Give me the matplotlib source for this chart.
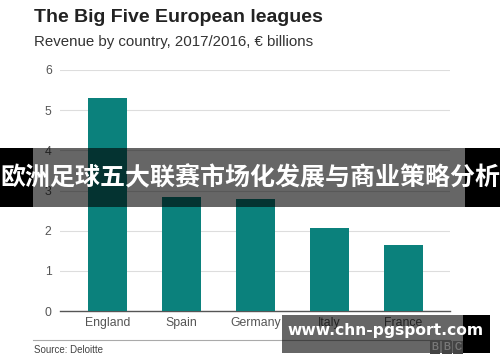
import matplotlib
matplotlib.use("Agg")
import matplotlib.pyplot as plt
from matplotlib.patches import Rectangle

plt.rcParams['font.family'] = ['Liberation Sans', 'DejaVu Sans']

# Data
countries = ["England", "Spain", "Germany", "Italy", "France"]
revenue = [5.3, 2.85, 2.79, 2.07, 1.64]
yticks = [0, 1, 2, 3, 4, 5, 6]

W, H = 500, 362

def fx(x):
    return x / W

def fy(y):
    return 1 - y / H

fig = plt.figure(figsize=(5, 3.62), dpi=100)
fig.patch.set_facecolor("white")

# Main chart
ax = fig.add_axes([fx(60), fy(311), fx(450) - fx(60), fy(70) - fy(311)])
ax.bar(range(len(countries)), revenue, width=0.53, color="#0b817c", zorder=3)
ax.set_ylim(0, 6)
ax.set_xlim(-0.64, 4.63)
ax.set_yticks(yticks)
ax.set_xticks(range(len(countries)))
ax.set_xticklabels(countries)
ax.grid(axis="y", color="#dddddd", linewidth=0.8, zorder=0)
for s in ["top", "right", "left"]:
    ax.spines[s].set_visible(False)
ax.spines["bottom"].set_color("#555555")
ax.spines["bottom"].set_linewidth(1.0)
ax.tick_params(axis="both", length=0, colors="#555555", labelsize=8.8)
ax.tick_params(axis="y", pad=6)
ax.tick_params(axis="x", pad=4)

# Titles
fig.text(fx(34), fy(17), "The Big Five European leagues", fontsize=14,
         fontweight="bold", color="#222222", va="center", ha="left")
fig.text(fx(34), fy(42), "Revenue by country, 2017/2016, € billions", fontsize=10.8,
         color="#333333", va="center", ha="left")

# Footer
fig.lines.append(plt.Line2D([fx(33), fx(450)], [fy(340), fy(340)],
                            transform=fig.transFigure, color="#aaaaaa", linewidth=0.8))
fig.text(fx(34), fy(350), "Source: Deloitte", fontsize=7, color="#444444",
         va="center", ha="left")

# Banner overlay
fig.patches.append(Rectangle((0, fy(207)), 1, fy(148) - fy(207), transform=fig.transFigure,
                             facecolor="black", alpha=0.6, zorder=5))
fig.patches.append(Rectangle((0, fy(207)), fx(33), fy(148) - fy(207), transform=fig.transFigure,
                             facecolor="black", zorder=5))
fig.patches.append(Rectangle((fx(465), fy(207)), 1 - fx(465), fy(148) - fy(207),
                             transform=fig.transFigure, facecolor="black", zorder=5))
fig.text(0.5, fy(178), "欧洲足球五大联赛市场化发展与商业策略分析", fontsize=18,
         fontweight="bold", color="white", va="center", ha="center",
         family=["Noto Sans CJK SC", "DejaVu Sans"], zorder=6)

# Watermark box
fig.patches.append(Rectangle((fx(282), fy(353)), fx(463) - fx(282), fy(315) - fy(353),
                             transform=fig.transFigure, facecolor="black", alpha=0.6, zorder=5))
fig.patches.append(Rectangle((fx(463), fy(353)), fx(490) - fx(463), fy(315) - fy(353),
                             transform=fig.transFigure, facecolor="black", zorder=5))
for i, ch in enumerate("BBC"):
    x0 = 430 + i * 11.5
    fig.patches.append(Rectangle((fx(x0), fy(354)), fx(10), fy(341) - fy(354),
                                 transform=fig.transFigure, facecolor="#444444", zorder=6))
    fig.text(fx(x0 + 5), fy(347.5), ch, fontsize=7, color="#777777", fontweight="bold",
             ha="center", va="center", zorder=7)
fig.text(fx(386), fy(331), "www.chn-pgsport.com", fontsize=11.2, fontweight="bold",
         color="white", va="center", ha="center", family=["DejaVu Sans"], zorder=7)

fig.savefig("out.png", dpi=100)
